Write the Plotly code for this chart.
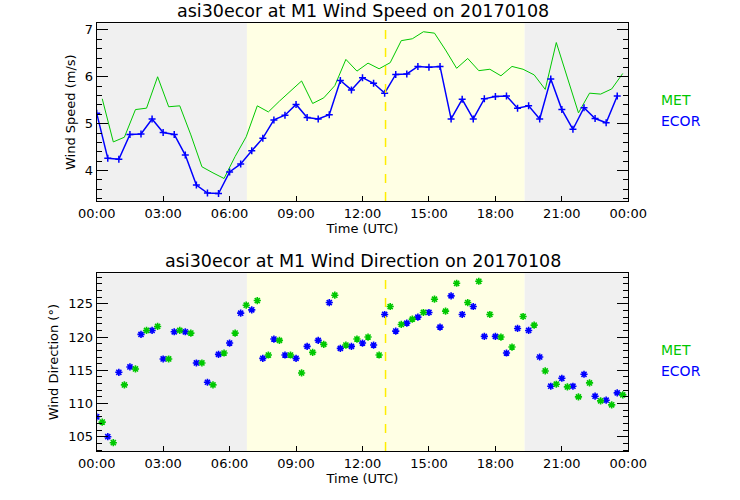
import plotly.graph_objects as go

# ECOR at full/half hours, MET offset by 15 min
ecor_hours = [i * 0.5 for i in range(48)]
met_hours = [i * 0.5 + 0.25 for i in range(48)]

ecor_speed = [5.22, 4.26, 4.24, 4.77, 4.78, 5.10, 4.81, 4.77, 4.33, 3.69, 3.52, 3.51,
              3.97, 4.14, 4.42, 4.69, 5.08, 5.18, 5.41, 5.13, 5.10, 5.19, 5.92, 5.72,
              5.98, 5.86, 5.65, 6.05, 6.06, 6.22, 6.20, 6.22, 5.10, 5.52, 5.10, 5.53,
              5.58, 5.59, 5.33, 5.38, 5.10, 5.95, 5.30, 4.88, 5.34, 5.11, 5.02, 5.59]
met_speed = [5.53, 4.61, 4.71, 5.30, 5.33, 6.00, 5.36, 5.38, 4.76, 4.08, 3.95, 3.83,
             4.30, 4.72, 5.38, 5.25, 5.48, 5.70, 5.91, 5.43, 5.55, 5.81, 6.37, 6.12,
             6.29, 6.17, 6.30, 6.77, 6.81, 6.96, 6.93, 6.57, 6.18, 6.39, 6.13, 6.16,
             6.02, 6.22, 6.16, 6.04, 5.73, 6.73, 5.98, 5.23, 5.65, 5.63, 5.74, 6.07]

ecor_dir = [108.0, 105.0, 114.7, 115.5, 120.4, 121.0, 116.7, 120.8, 120.8, 116.1, 113.2, 117.4,
            119.1, 123.6, 124.1, 116.8, 119.7, 117.3, 116.8, 118.6, 119.5, 125.2, 118.3, 118.6,
            119.1, 118.8, 123.4, 120.9, 122.1, 123.0, 123.7, 121.5, 126.2, 123.4, 124.6, 120.1,
            120.1, 117.6, 121.3, 121.0, 117.0, 112.6, 113.8, 112.6, 114.4, 111.1, 110.5, 111.6]
met_dir = [107.2, 104.1, 112.8, 115.2, 121.0, 121.6, 116.7, 121.0, 120.6, 116.1, 112.8, 117.6,
           120.6, 124.8, 125.5, 117.3, 119.5, 117.3, 114.6, 117.7, 118.9, 126.3, 118.8, 119.7,
           120.0, 117.3, 124.6, 121.9, 122.7, 123.7, 125.7, 123.9, 128.1, 125.2, 128.4, 123.4,
           120.0, 118.5, 123.1, 121.8, 114.9, 112.9, 112.5, 111.0, 113.1, 110.4, 109.8, 111.3]

sunrise, sunset, solar_noon = 6.78, 19.32, 13.04
tick_hours = [0, 3, 6, 9, 12, 15, 18, 21, 24]
tick_text = ["00:00", "03:00", "06:00", "09:00", "12:00", "15:00", "18:00", "21:00", "00:00"]

GREEN = "#00c800"
BLUE = "#0000ff"
FONT = "DejaVu Sans"

W, H = 740, 500


def px(p):
    return p / W


def py(p):
    return 1 - p / H


fig = go.Figure()

fig.add_trace(go.Scatter(x=met_hours, y=met_speed, mode="lines",
                         line=dict(color=GREEN, width=1), xaxis="x", yaxis="y"))
fig.add_trace(go.Scatter(x=ecor_hours, y=ecor_speed, mode="lines+markers",
                         line=dict(color=BLUE, width=1.5),
                         marker=dict(symbol="cross-thin", size=5, line=dict(color=BLUE, width=1.5)),
                         xaxis="x", yaxis="y"))
fig.add_trace(go.Scatter(x=ecor_hours, y=ecor_dir, mode="markers",
                         marker=dict(symbol="asterisk", size=6, line=dict(color=BLUE, width=1.6)),
                         xaxis="x2", yaxis="y2"))
fig.add_trace(go.Scatter(x=met_hours, y=met_dir, mode="markers",
                         marker=dict(symbol="asterisk", size=6, line=dict(color=GREEN, width=1.6)),
                         xaxis="x2", yaxis="y2"))

shapes = []
for xr, yr in (("x", "y"), ("x2", "y2")):
    for x0, x1, col in ((0, sunrise, "#f0f0f0"), (sunrise, sunset, "#ffffe4"), (sunset, 24, "#f0f0f0")):
        shapes.append(dict(type="rect", xref=xr, yref=yr + " domain", x0=x0, x1=x1, y0=0, y1=1,
                           fillcolor=col, line=dict(width=0), layer="below"))
    shapes.append(dict(type="line", xref=xr, yref=yr + " domain", x0=solar_noon, x1=solar_noon,
                       y0=0, y1=1, line=dict(color="#ffee00", width=1.5, dash="dash")))

xaxis_common = dict(range=[0, 24], domain=[px(96.7), px(628.3)], tickvals=tick_hours, ticktext=tick_text,
                    ticks="inside", ticklen=5, tickcolor="black", showline=True, linecolor="black",
                    mirror=True, showgrid=False, zeroline=False, automargin=False,
                    tickfont=dict(family=FONT, size=13, color="black"),
                    title=dict(text="Time (UTC)", font=dict(family=FONT, size=13, color="black"),
                               standoff=2))
yaxis_common = dict(ticks="inside", ticklen=11, tickcolor="black", showline=True, linecolor="black",
                    mirror="ticks", showgrid=False, zeroline=False, automargin=False,
                    tickfont=dict(family=FONT, size=13, color="black"))

fig.update_layout(
    width=W, height=H,
    margin=dict(l=0, r=0, t=0, b=0),
    paper_bgcolor="white", plot_bgcolor="white",
    showlegend=False,
    shapes=shapes,
    xaxis=dict(xaxis_common, anchor="y"),
    xaxis2=dict(xaxis_common, anchor="y2"),
    yaxis=dict(yaxis_common, range=[3.35, 7.14], domain=[py(201), py(23.3)],
               anchor="x", dtick=1, minor=dict(dtick=0.2, ticklen=5, ticks="inside", tickcolor="black"),
               title=dict(text="Wind Speed (m/s)", font=dict(family=FONT, size=13, color="black"),
                          standoff=6)),
    yaxis2=dict(yaxis_common, range=[102.85, 129.6], domain=[py(451), py(273.3)],
                anchor="x2", dtick=5, minor=dict(dtick=1, ticklen=5, ticks="inside", tickcolor="black"),
                title=dict(text="Wind Direction (°)", font=dict(family=FONT, size=13, color="black"),
                           standoff=6)),
)

labels = [
    ("asi30ecor at M1 Wind Speed on 20170108", 362.5, 11, "center", 17.5, "black"),
    ("asi30ecor at M1 Wind Direction on 20170108", 362.5, 261, "center", 17.5, "black"),
    ("MET", 659, 100, "left", 14, GREEN),
    ("ECOR", 659, 121, "left", 14, BLUE),
    ("MET", 659, 350, "left", 14, GREEN),
    ("ECOR", 659, 371, "left", 14, BLUE),
]
for text, x, y, anchor, size, col in labels:
    fig.add_annotation(text=text, x=px(x), y=py(y), xref="paper", yref="paper",
                       xanchor=anchor, yanchor="middle", showarrow=False,
                       font=dict(family=FONT, size=size, color=col))

# drop the default 8px page margin so the figure sits at the window's top-left corner
fig.write_html("out.html", config={"displayModeBar": False},
               post_script="document.body.style.margin = '0';")
